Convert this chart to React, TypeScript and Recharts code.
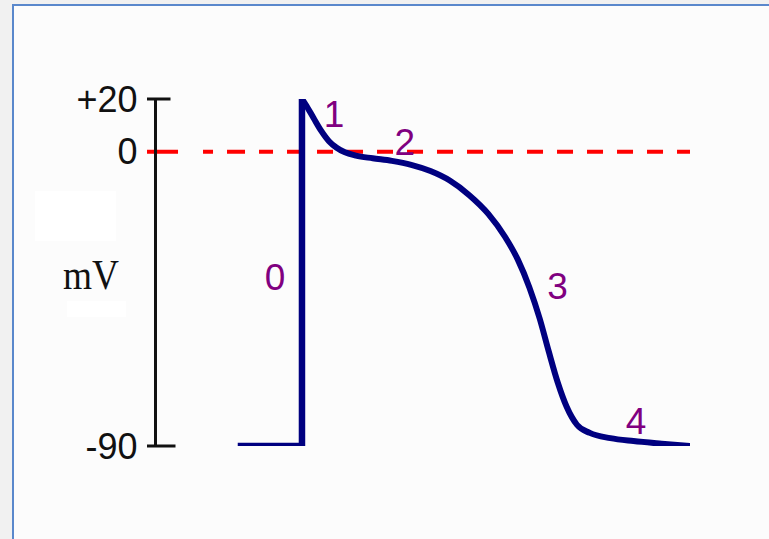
import React from "react"
import { LineChart, Line, XAxis, YAxis, ReferenceLine, ReferenceDot } from "recharts"

/* ── data: cardiac action potential (schematic) ── */
const restTime = [-50, 0, 0]
const restMv = [-90, -90, 20]

const apTime = [0, 3, 9, 15, 21, 27, 33, 42, 55, 70, 85, 100, 115, 130, 145, 158, 168, 177, 185, 192, 199, 206, 214, 224, 240, 258, 280, 302]
const apMv = [20, 17.8, 12.8, 7.9, 4.0, 1.5, -0.1, -1.2, -2.0, -2.8, -4.0, -5.9, -8.8, -13.2, -19, -26, -33, -41.5, -51, -61, -70.5, -78, -83.5, -86, -87.6, -88.5, -89.3, -90]

const mvTicks = [-90, 0, 20]

const phaseNames = ["0", "1", "2", "3", "4"]
const phaseTime = [-21, 25, 80, 199, 260]
const phaseMv = [-38.6, 14.3, 3.4, -41.3, -82.6]

const restData = restTime.map((t, i) => ({ t, mv: restMv[i] }))
const apData = apTime.map((t, i) => ({ t, mv: apMv[i] }))

/* ── piecewise linear scale (the drawing is not to scale above 0 mV) ── */
function piecewiseScale(knots: number[], fracs: number[]): any {
  let dom = [knots[0], knots[knots.length - 1]]
  let rng = [0, 1]
  const s: any = (v: number) => {
    let i = 0
    while (i < knots.length - 2 && v > knots[i + 1]) i++
    const k = (v - knots[i]) / (knots[i + 1] - knots[i])
    const f = fracs[i] + k * (fracs[i + 1] - fracs[i])
    return rng[0] + f * (rng[1] - rng[0])
  }
  s.domain = (d?: number[]) => {
    if (d === undefined) return dom.slice()
    dom = d.slice()
    return s
  }
  s.range = (r?: number[]) => {
    if (r === undefined) return rng.slice()
    rng = r.slice()
    return s
  }
  s.copy = () => piecewiseScale(knots, fracs).domain(dom).range(rng)
  s.ticks = () => knots.slice()
  s.tickFormat = () => (v: number) => String(v)
  s.nice = () => s
  s.clamp = () => s
  return s
}

const mvScale = piecewiseScale([-90, 0, 20], [0, 0.848, 1])

const fmt = (v: number) => (v > 0 ? `+${v}` : `${v}`)

function MvTick({ x, y, payload }: any) {
  const v = payload.value
  return (
    <g>
      {v !== 0 && <line x1={x - 8.5} x2={x + (v < 0 ? 20 : 15)} y1={y} y2={y} stroke="#111" strokeWidth={3} />}
      <text x={x - 18} y={y} textAnchor="end" dominantBaseline="central" fontSize={36} fontFamily="Liberation Sans" fill="#111">
        {fmt(v)}
      </text>
    </g>
  )
}

const dash = "31 25 10 14 18 14 14 14 " + Array(18).fill("16 14").join(" ")

export default function App() {
  return (
    <div style={{ position: "absolute", left: 0, top: 0, width: 769, height: 539, background: "#f1f1f1", overflow: "hidden" }}>
      <div style={{ position: "absolute", left: 12, top: 4, width: 770, height: 540, background: "#fcfcfc", borderLeft: "2px solid #5a88cc", borderTop: "2px solid #5a88cc" }} />
      <svg width={769} height={539} style={{ position: "absolute", left: 0, top: 0 }}>
        <rect x={35} y={191} width={81} height={50} fill="#ffffff" />
        <rect x={67} y={301} width={59} height={16} fill="#ffffff" />
        <text x={63} y={289} fontSize={42} fontFamily="Liberation Serif" fill="#111" textLength={56} lengthAdjust="spacingAndGlyphs">
          mV
        </text>
      </svg>
      <div style={{ position: "absolute", left: 0, top: 0 }}>
        <LineChart width={769} height={539} margin={{ top: 99, right: 79, bottom: 93, left: 0 }}>
          <XAxis type="number" dataKey="t" domain={[-114, 302]} hide allowDataOverflow />
          <YAxis
            type="number"
            domain={[-90, 20]}
            scale={mvScale}
            ticks={mvTicks}
            width={155.5}
            tickSize={0}
            tickMargin={0}
            tickLine={false}
            axisLine={{ stroke: "#111", strokeWidth: 3 }}
            tick={<MvTick />}
            allowDataOverflow
          />
          <ReferenceLine
            segment={[{ x: -120.6, y: 0 }, { x: 302, y: 0 }]}
            ifOverflow="visible"
            stroke="#ff0000"
            strokeWidth={4}
            strokeDasharray={dash}
          />
          <Line data={restData} dataKey="mv" type="linear" stroke="#000080" strokeWidth={6.5} dot={false} activeDot={false} isAnimationActive={false} />
          <Line data={apData} dataKey="mv" type="monotone" stroke="#000080" strokeWidth={6} dot={false} activeDot={false} isAnimationActive={false} />
          {phaseNames.map((p, i) => (
            <ReferenceDot
              key={p}
              x={phaseTime[i]}
              y={phaseMv[i]}
              r={0}
              shape={(props: any) => (
                <text x={props.cx} y={props.cy} textAnchor="middle" dominantBaseline="central" fontSize={37} fontFamily="Liberation Sans" fill="#800080">
                  {p}
                </text>
              )}
            />
          ))}
        </LineChart>
      </div>
    </div>
  )
}
